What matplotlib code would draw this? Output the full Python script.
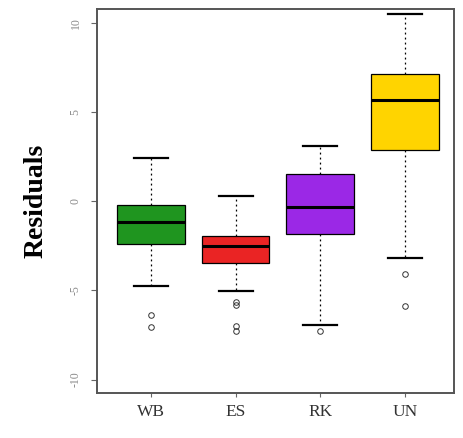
import matplotlib
matplotlib.use("Agg")
import matplotlib.pyplot as plt

# Residual summaries per group (whiskers, quartiles, median, outliers)
groups = ["WB", "ES", "RK", "UN"]
whisker_low = [-4.75, -5.05, -6.95, -3.2]
q1 = [-2.4, -3.48, -1.86, 2.85]
median = [-1.2, -2.5, -0.35, 5.65]
q3 = [-0.22, -1.94, 1.5, 7.1]
whisker_high = [2.4, 0.28, 3.1, 10.5]
outliers = [[-6.4, -7.05], [-5.65, -5.8, -7.0, -7.3], [-7.3], [-4.1, -5.9]]
colors = ["#1f951f", "#ea2424", "#9b28e6", "#ffd400"]

stats = []
for i, g in enumerate(groups):
    stats.append(dict(label=g, whislo=whisker_low[i], q1=q1[i], med=median[i],
                      q3=q3[i], whishi=whisker_high[i], fliers=outliers[i]))

fig = plt.figure(figsize=(4.64, 4.38), dpi=100)
ax = fig.add_axes([0.209, 0.103, 0.769, 0.876])

bp = ax.bxp(stats, positions=[1, 2, 3, 4], widths=0.8, patch_artist=True,
            boxprops=dict(edgecolor="black", linewidth=0.9),
            medianprops=dict(color="black", linewidth=2.2),
            whiskerprops=dict(color="black", linewidth=0.9, linestyle=(0, (1.5, 2.5))),
            capprops=dict(color="black", linewidth=1.6),
            capwidths=0.4,
            flierprops=dict(marker="o", markerfacecolor="none", markeredgecolor="#333333",
                            markersize=4, markeredgewidth=0.7))
for patch, c in zip(bp["boxes"], colors):
    patch.set_facecolor(c)

ax.set_xlim(0.36, 4.58)
ax.set_ylim(-10.75, 10.75)
ax.set_yticks([-10, -5, 0, 5, 10])
ax.set_yticklabels(["-10", "-5", "0", "5", "10"], rotation=90, va="center",
                   color="#8a8a8a", fontsize=8.5, family="Liberation Serif")
ax.set_xticks([1, 2, 3, 4])
ax.set_xticklabels(groups, fontsize=12.5, family="Liberation Serif", color="#333333")
ax.tick_params(axis="y", length=4, color="#666666", pad=7)
ax.tick_params(axis="x", length=3, color="#666666", pad=5)

for s in ax.spines.values():
    s.set_color("#555555")
    s.set_linewidth(1.4)

ax.set_ylabel("Residuals", fontsize=20, fontweight="bold", family="Liberation Serif",
              labelpad=15)

fig.savefig("out.png", dpi=100)
